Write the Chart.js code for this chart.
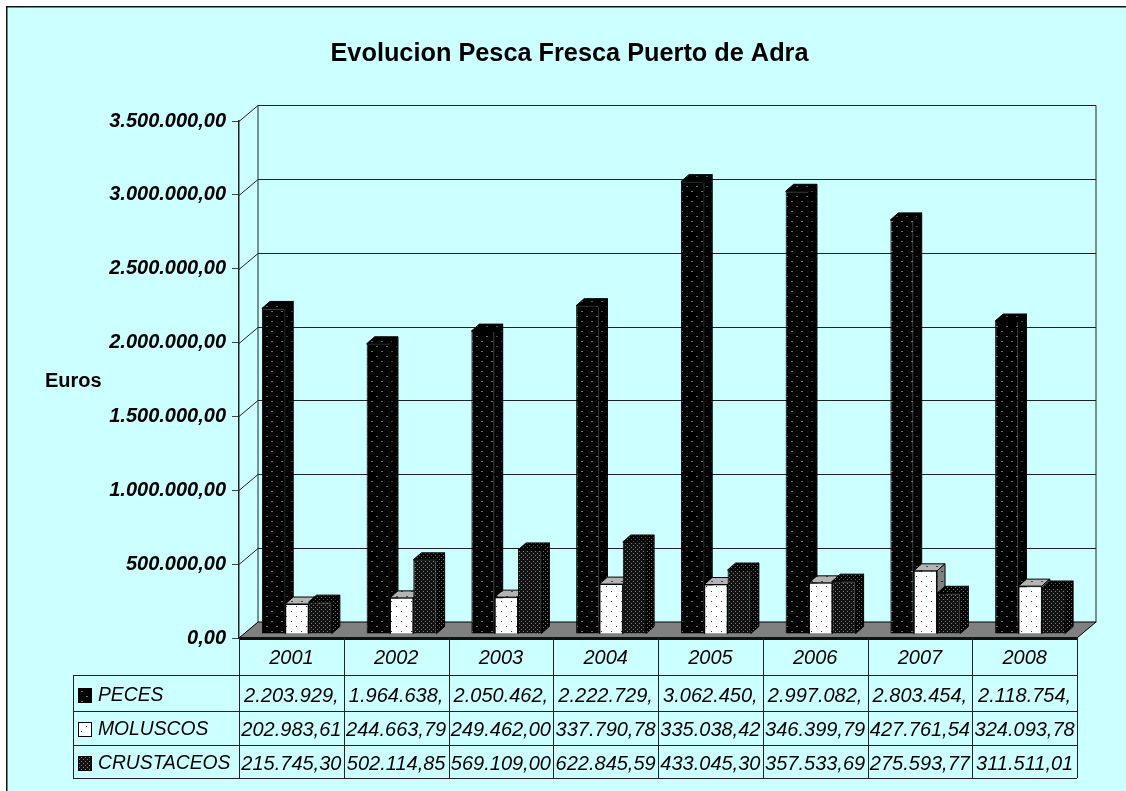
<!DOCTYPE html>
<html>
<head>
<meta charset="utf-8">
<title>Evolucion Pesca Fresca Puerto de Adra</title>
<script src="https://cdn.jsdelivr.net/npm/chart.js@4"></script>
<style>
  html, body { margin: 0; padding: 0; background: #fff; overflow: hidden; }
  canvas { display: block; }
</style>
</head>
<body>
<canvas id="chart" width="1126" height="791"></canvas>
<script>
// Data
const years = ['2001', '2002', '2003', '2004', '2005', '2006', '2007', '2008'];
const peces = [2203929, 1964638, 2050462, 2222729, 3062450, 2997082, 2803454, 2118754];
const moluscos = [202983.61, 244663.79, 249462.00, 337790.78, 335038.42, 346399.79, 427761.54, 324093.78];
const crustaceos = [215745.30, 502114.85, 569109.00, 622845.59, 433045.30, 357533.69, 275593.77, 311511.01];
const yTickLabels = ['0,00', '500.000,00', '1.000.000,00', '1.500.000,00', '2.000.000,00', '2.500.000,00', '3.000.000,00', '3.500.000,00'];

// Table text, cut off the same way as in the original
const pecesText = ['2.203.929,', '1.964.638,', '2.050.462,', '2.222.729,', '3.062.450,', '2.997.082,', '2.803.454,', '2.118.754,'];
const moluscosText = ['202.983,61', '244.663,79', '249.462,00', '337.790,78', '335.038,42', '346.399,79', '427.761,54', '324.093,78'];
const crustaceosText = ['215.745,30', '502.114,85', '569.109,00', '622.845,59', '433.045,30', '357.533,69', '275.593,77', '311.511,01'];

const FONT = '"Liberation Sans", Arial, sans-serif';
const WALL_DX = 19, WALL_DY = 16;     // back wall offset
const BAR_DX = 8, BAR_DY = 7;         // bar depth
const SHIFT_X = 5.5, SHIFT_Y = 4;     // bars stand a bit inside the floor

// Dotted fills
function dots(bg, fg, size, w) {
    const c = document.createElement('canvas');
    c.width = size; c.height = size;
    const g = c.getContext('2d');
    g.fillStyle = bg;
    g.fillRect(0, 0, size, size);
    g.fillStyle = fg;
    g.fillRect(1, 1, w, 1);
    g.fillRect(1 + size / 2, 1 + size / 2, w, 1);
    return document.createElement('canvas').getContext('2d').createPattern(c, 'repeat');
}
const fills = {
    peces: { front: dots('#000', '#6e6e6e', 10, 2), top: dots('#000', '#5a5a5a', 10, 2), side: dots('#000', '#444', 10, 2) },
    moluscos: { front: dots('#fff', '#333', 10, 1), top: dots('#b4b4b4', '#444', 10, 2), side: dots('#808080', '#222', 10, 2) },
    crustaceos: { front: dots('#111', '#808080', 4, 1), top: dots('#000', '#666', 4, 1), side: dots('#000', '#777', 4, 1) }
};
const tableRows = [
    { name: 'PECES', text: pecesText, fill: fills.peces.front },
    { name: 'MOLUSCOS', text: moluscosText, fill: fills.moluscos.front },
    { name: 'CRUSTACEOS', text: crustaceosText, fill: fills.crustaceos.front }
];

function poly(ctx, pts, fill) {
    ctx.beginPath();
    pts.forEach((p, i) => i ? ctx.lineTo(p[0], p[1]) : ctx.moveTo(p[0], p[1]));
    ctx.closePath();
    if (fill) { ctx.fillStyle = fill; ctx.fill(); }
    ctx.lineWidth = 1;
    ctx.strokeStyle = '#000';
    ctx.stroke();
}

const plot3d = {
    id: 'plot3d',
    // page frame
    beforeDraw(chart) {
        const ctx = chart.ctx;
        ctx.save();
        ctx.fillStyle = '#fff';
        ctx.fillRect(0, 0, chart.width, chart.height);
        ctx.fillStyle = '#ccffff';
        ctx.fillRect(7, 7, chart.width, chart.height);
        ctx.fillStyle = '#111';
        ctx.fillRect(6, 6, chart.width, 1.5);
        ctx.fillRect(6, 6, 1.5, chart.height);
        ctx.restore();
    },
    // move the bars off the front plane
    afterDatasetsUpdate(chart) {
        chart.getSortedVisibleDatasetMetas().forEach(meta => {
            meta.data.forEach(bar => {
                bar.x += SHIFT_X;
                bar.y -= SHIFT_Y;
                bar.base -= SHIFT_Y;
            });
        });
    },
    // back wall, gridlines and floor
    beforeDatasetsDraw(chart) {
        const ctx = chart.ctx, y = chart.scales.y, a = chart.chartArea;
        ctx.save();
        ctx.lineWidth = 1;
        ctx.strokeStyle = '#222';
        ctx.beginPath();
        y.ticks.forEach(t => {
            const py = Math.round(y.getPixelForValue(t.value)) + 0.5;
            ctx.moveTo(a.left, py);
            ctx.lineTo(a.left + WALL_DX, py - WALL_DY);
            ctx.lineTo(a.right + WALL_DX, py - WALL_DY);
        });
        const top = Math.round(a.top) + 0.5 - WALL_DY, floor = Math.round(a.bottom) + 0.5 - WALL_DY;
        ctx.moveTo(a.left + WALL_DX, top);
        ctx.lineTo(a.left + WALL_DX, floor);
        ctx.moveTo(a.right + WALL_DX, top);
        ctx.lineTo(a.right + WALL_DX, floor);
        ctx.stroke();
        poly(ctx, [[a.left, a.bottom], [a.left + WALL_DX, a.bottom - WALL_DY], [a.right + WALL_DX, a.bottom - WALL_DY], [a.right, a.bottom]], '#808080');
        ctx.fillStyle = '#111';
        ctx.fillRect(a.left, a.bottom - 1, a.right - a.left, 3);
        ctx.restore();
    },
    // skip the default paint order, the bars must go left to right
    beforeDatasetDraw() {
        return false;
    },
    // top and side of the bars, then the library draws the front
    afterDatasetsDraw(chart) {
        const ctx = chart.ctx;
        chart.data.datasets.forEach((ds, index) => {
            const meta = chart.getDatasetMeta(index), f = ds.faces;
            ctx.save();
            meta.data.forEach(bar => {
                const l = bar.x - bar.width / 2, r = bar.x + bar.width / 2;
                poly(ctx, [[l, bar.y], [l + BAR_DX, bar.y - BAR_DY], [r + BAR_DX, bar.y - BAR_DY], [r, bar.y]], f.top);
                poly(ctx, [[r, bar.y], [r + BAR_DX, bar.y - BAR_DY], [r + BAR_DX, bar.base - BAR_DY], [r, bar.base]], f.side);
            });
            ctx.restore();
            meta.controller.draw();
        });
    },
    // data table and the Euros label
    afterDraw(chart) {
        const ctx = chart.ctx, a = chart.chartArea;
        const colW = (a.right - a.left) / years.length;
        const rowLines = [675, 711, 745, 778];
        const rowMid = [696, 730, 764];
        const tableLeft = 73;
        ctx.save();
        ctx.lineWidth = 1;
        ctx.strokeStyle = '#222';
        ctx.beginPath();
        rowLines.forEach(ly => {
            ctx.moveTo(tableLeft, ly + 0.5);
            ctx.lineTo(a.right, ly + 0.5);
        });
        ctx.moveTo(tableLeft + 0.5, rowLines[0]);
        ctx.lineTo(tableLeft + 0.5, rowLines[3]);
        for (let i = 0; i <= years.length; i++) {
            const lx = Math.round(a.left + i * colW) + 0.5;
            ctx.moveTo(lx, a.bottom);
            ctx.lineTo(lx, rowLines[3]);
        }
        ctx.stroke();

        ctx.textBaseline = 'middle';
        tableRows.forEach((row, r) => {
            const my = rowMid[r];
            ctx.fillStyle = row.fill;
            ctx.fillRect(78.5, my - 7.5, 13, 14);
            ctx.strokeStyle = '#000';
            ctx.strokeRect(78.5, my - 7.5, 13, 14);
            ctx.fillStyle = '#000';
            ctx.textAlign = 'left';
            ctx.font = 'italic 19.3px ' + FONT;
            ctx.fillText(row.name, 98, my);
            ctx.textAlign = 'center';
            ctx.font = 'italic 20px ' + FONT;
            row.text.forEach((t, i) => ctx.fillText(t, a.left + (i + 0.5) * colW, my));
        });

        ctx.textAlign = 'left';
        ctx.font = 'bold 20px ' + FONT;
        ctx.fillText('Euros', 45, 381);
        ctx.restore();
    }
};

new Chart(document.getElementById('chart'), {
    type: 'bar',
    data: {
        labels: years,
        datasets: [
            { label: 'PECES', data: peces, backgroundColor: fills.peces.front, faces: fills.peces },
            { label: 'MOLUSCOS', data: moluscos, backgroundColor: fills.moluscos.front, faces: fills.moluscos },
            { label: 'CRUSTACEOS', data: crustaceos, backgroundColor: fills.crustaceos.front, faces: fills.crustaceos }
        ]
    },
    options: {
        responsive: false,
        animation: false,
        events: [],
        layout: { padding: { left: 62, right: 49, top: 39, bottom: 0 } },
        datasets: { bar: { categoryPercentage: 0.668, barPercentage: 1, borderColor: '#000', borderWidth: 1 } },
        plugins: {
            legend: { display: false },
            tooltip: { enabled: false },
            title: {
                display: true,
                text: 'Evolucion Pesca Fresca Puerto de Adra',
                color: '#000',
                font: { family: FONT, size: 25.3, weight: 'bold', lineHeight: 30 / 25.3 },
                padding: { top: 0, bottom: 52 }
            }
        },
        scales: {
            x: {
                afterFit: s => { s.height = 153; },
                grid: { display: false },
                border: { display: false },
                ticks: {
                    color: '#000',
                    padding: 0,
                    maxRotation: 0,
                    autoSkip: false,
                    font: { family: FONT, size: 20, style: 'italic' }
                }
            },
            y: {
                min: 0,
                max: 3500000,
                afterFit: s => { s.width = 177; },
                grid: { drawOnChartArea: false, tickLength: 7, tickColor: '#444', tickWidth: 1 },
                border: { color: '#222', width: 1.5 },
                ticks: {
                    stepSize: 500000,
                    color: '#000',
                    padding: 6,
                    font: { family: FONT, size: 20, style: 'italic', weight: 'bold' },
                    callback: (v, i) => yTickLabels[i]
                }
            }
        }
    },
    plugins: [plot3d]
});
</script>
</body>
</html>
